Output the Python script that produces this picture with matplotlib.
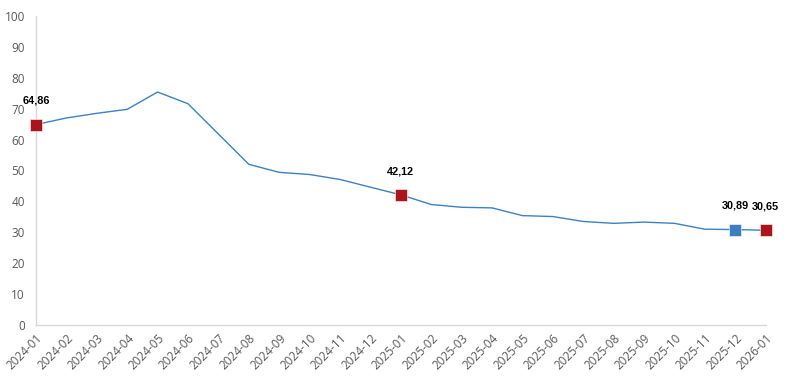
import matplotlib
matplotlib.use("Agg")
import matplotlib.pyplot as plt

months = ["2024-01", "2024-02", "2024-03", "2024-04", "2024-05", "2024-06",
          "2024-07", "2024-08", "2024-09", "2024-10", "2024-11", "2024-12",
          "2025-01", "2025-02", "2025-03", "2025-04", "2025-05", "2025-06",
          "2025-07", "2025-08", "2025-09", "2025-10", "2025-11", "2025-12",
          "2026-01"]
values = [64.86, 67.0, 68.5, 69.8, 75.4, 71.6,
          61.8, 52.0, 49.4, 48.7, 47.1, 44.6,
          42.12, 39.0, 38.1, 37.9, 35.4, 35.1,
          33.5, 32.9, 33.3, 32.9, 31.0, 30.89,
          30.65]
# highlighted points
red_idx = [0, 12, 24]
blue_idx = [23]

fig = plt.figure(figsize=(7.91, 3.89), dpi=100)
ax = fig.add_axes([0.0455, 0.1645, 0.9225, 0.7944])

x = list(range(len(months)))
ax.plot(x, values, color="#3a82c4", lw=1.0, zorder=2)

for idx_list, col in ((red_idx, "#ac1419"), (blue_idx, "#3a7fbf")):
    ax.scatter([x[i] for i in idx_list], [values[i] for i in idx_list],
               marker="s", s=72, color=col, edgecolors="white", linewidths=0.4,
               zorder=3, clip_on=False)
    for i in idx_list:
        ax.annotate(f"{values[i]:.2f}".replace(".", ","), (x[i], values[i]),
                    xytext=(0, 17), textcoords="offset points", ha="center",
                    va="center", fontsize=7.8, fontweight="bold",
                    family="Liberation Sans", color="black")

ax.set_xlim(0, 24)
ax.set_ylim(0, 100)
ax.set_yticks(range(0, 101, 10))
ax.set_xticks(x)
ax.set_xticklabels(months, rotation=45, ha="right", rotation_mode="anchor",
                   family="Open Sans", fontsize=8.5, color="#595959")
for lab in ax.get_yticklabels():
    lab.set_family("Open Sans")
    lab.set_fontsize(8.5)
    lab.set_color("#595959")
ax.tick_params(axis="y", length=0, pad=8)
ax.tick_params(axis="x", length=0, pad=5)

for s in ("top", "right"):
    ax.spines[s].set_visible(False)
for s in ("left", "bottom"):
    ax.spines[s].set_color("#d9d9d9")
    ax.spines[s].set_linewidth(1.0)

fig.savefig("out.png", dpi=100)
